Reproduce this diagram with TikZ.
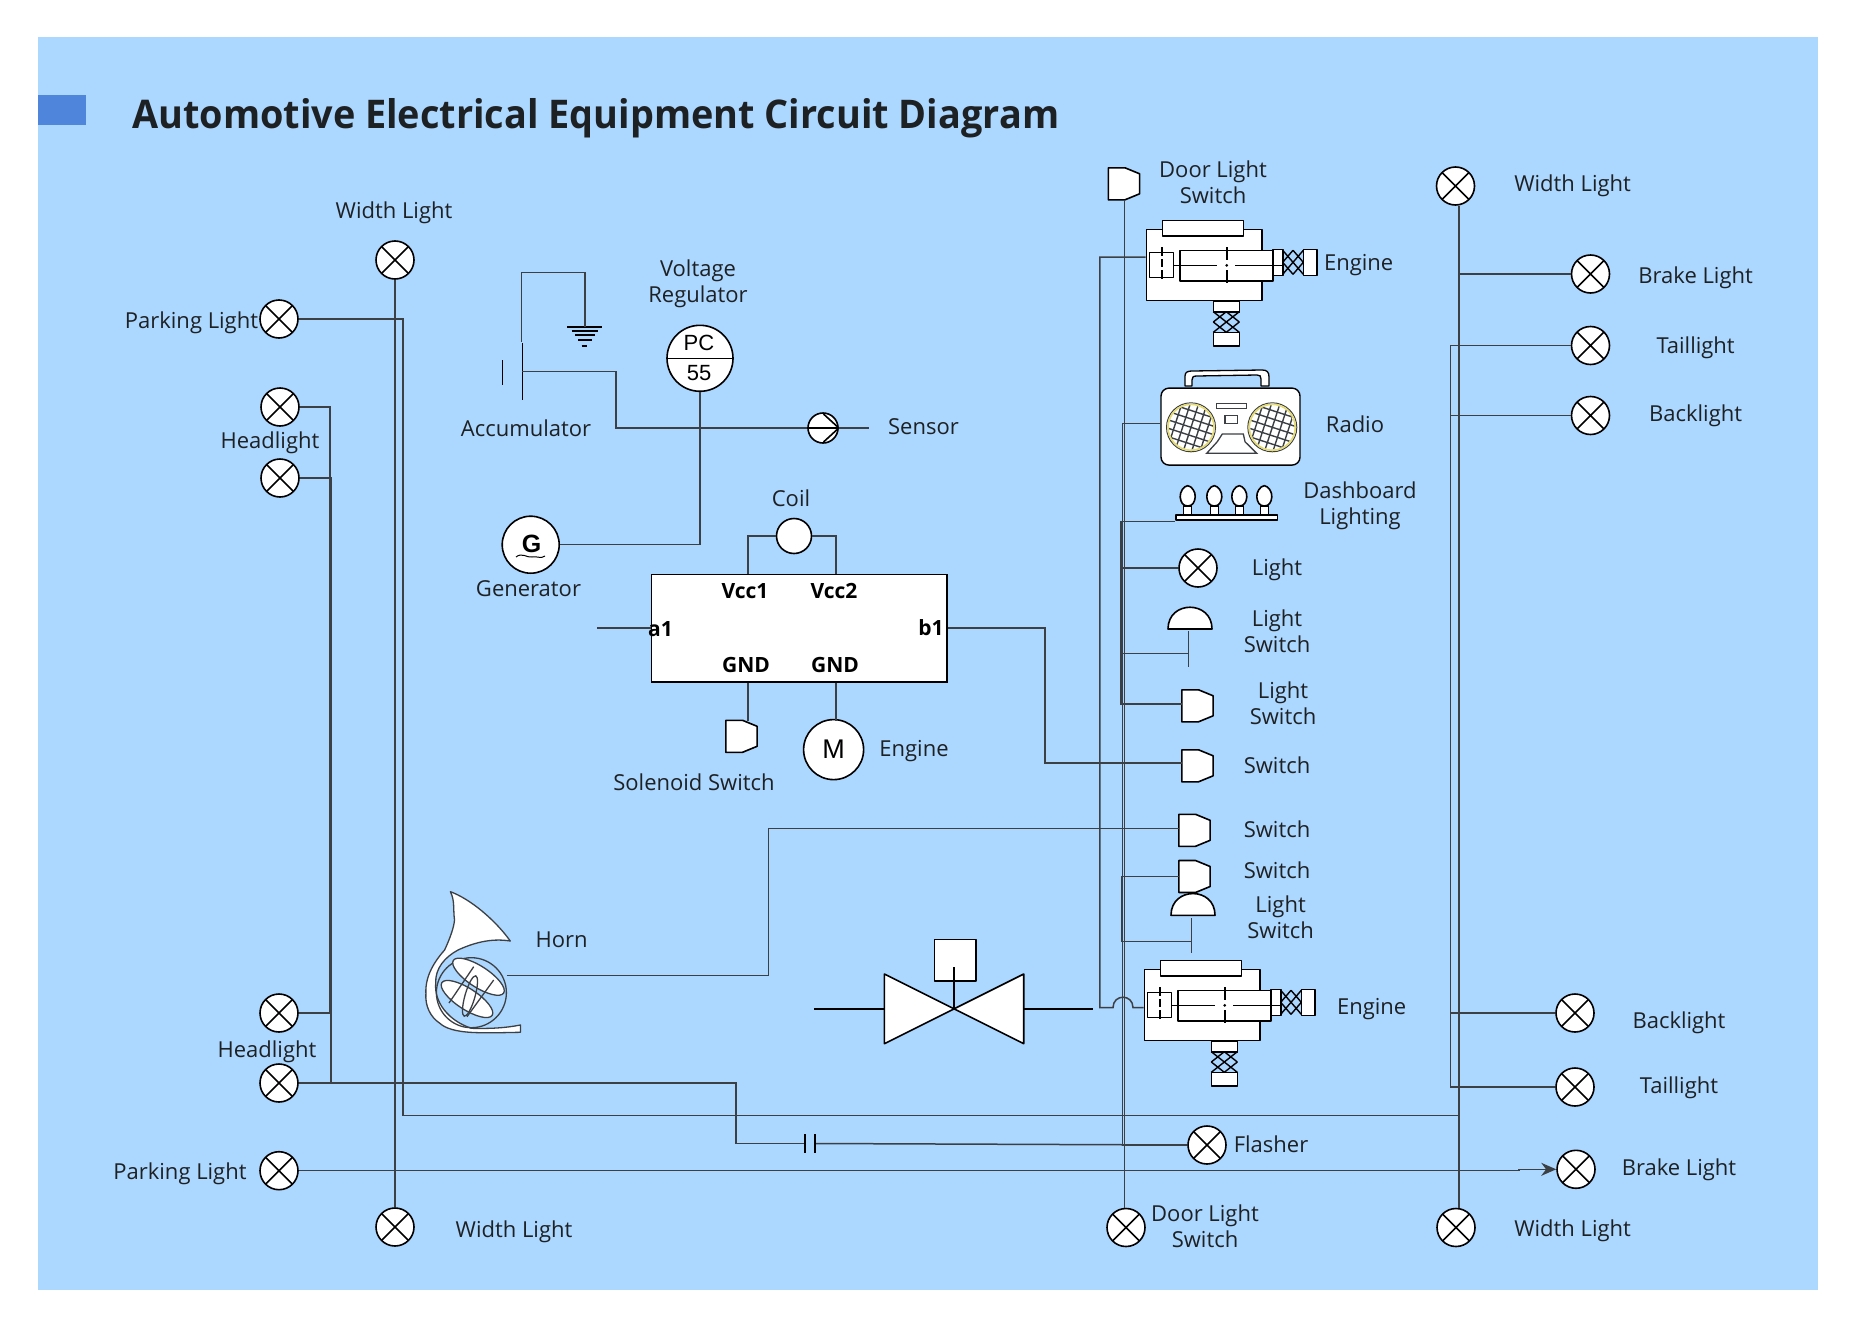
\documentclass[tikz,border=0pt]{standalone}
\usepackage{fontspec}
\setmainfont{Open Sans}
\newfontfamily\arialfont{Liberation Sans}
\newfontfamily\titlefont[FakeStretch=.958]{Open Sans}
\usepackage{xcolor}
\usetikzlibrary{arrows.meta,calc}

\definecolor{panelblue}{HTML}{ACD7FF}
\definecolor{tabblue}{HTML}{4F86DB}
\definecolor{wiregrey}{HTML}{3C4044}
\definecolor{inkgrey}{HTML}{1E2124}
\definecolor{ringyellow}{HTML}{E6DB6C}

% one unit is one pixel of the reference
\tikzset{
    wire/.style={draw=wiregrey, line width=1.5pt, line join=miter},
    symb/.style={draw=black, line width=1.6pt, line join=round},
    lamp/.style={circle, draw=black, line width=1.6pt, fill=white, minimum size=38pt, inner sep=0pt,
        path picture={\draw[black, line width=1.6pt]
            (path picture bounding box.south west) -- (path picture bounding box.north east)
            (path picture bounding box.north west) -- (path picture bounding box.south east);}},
    roundsym/.style={circle, draw=black, line width=1.6pt, fill=white, inner sep=0pt},
    gatebox/.style={rectangle, minimum width=32pt, minimum height=32pt, inner sep=0pt},
    tag/.style={align=center, text=inkgrey, inner sep=0pt, font=\fontsize{22}{26}\selectfont},
    pinname/.style={text=black, inner sep=0pt, font=\fontsize{21}{25}\selectfont\bfseries},
    enginebox/.pic={
        \node[rectangle, symb, fill=white, minimum width=115.4pt, minimum height=71pt, inner sep=0pt] (-body) at (57.7,35.5) {};
        \draw[symb, fill=white] (16,-9) rectangle (97,6.4);
        \draw[symb, fill=white] (3,23) rectangle (27,48);
        \draw[symb, fill=white] (33.7,21) rectangle (126.4,51.4);
        \draw[symb, fill=white] (126.4,20) rectangle (136.4,46);
        \draw[symb, fill=white] (157,20) rectangle (170.4,46);
        \draw[symb, fill=white] (67,71.4) rectangle (93,82.4);
        \draw[symb, fill=white] (67,103) rectangle (93,116.4);
        \hatchnet{136.4}{21}{20.6}{24}
        \hatchnet{67}{82.4}{26}{20.6}
        \draw[symb] (27,36) -- (71,36) (88.7,36) -- (136.4,36);
        \fill (80.4,36) circle (1.5pt);
        \draw[symb, dash pattern=on 9pt off 3pt on 8pt off 3pt on 9pt] (15.4,18) -- (15.4,52.4);
        \draw[symb] (80.4,18) -- (80.4,31) (80.4,41) -- (80.4,54);
    }
}

\newcommand{\hatchnet}[4]{
    \begin{scope}[shift={(#1,#2)}, x=#3pt, y=-#4pt]
        \draw[symb, line width=1.4pt] (0,0) -- (1,1) (0,.5) -- (.5,1) (.5,0) -- (1,.5)
            (1,0) -- (0,1) (.5,0) -- (0,.5) (1,.5) -- (.5,1);
    \end{scope}
}
\newcommand{\gateswitch}[3]{
    \node[gatebox] (#1) at (#2,#3) {};
    \draw[symb, fill=white] (#1.north west) -- ++(16.7,0) -- ++(14.6,6) -- ++(0,20) -- ++(-14.6,6) -- ++(-16.7,0) -- cycle;
}
\newcommand{\domeswitch}[3]{
    \coordinate (#1) at (#2,#3);
    \draw[symb, fill=white] ($(#1)+(-22,0)$) .. controls +(0,-29) and +(0,-29) .. ++(44,0) -- cycle;
}
\newcommand{\speakerdisc}[2]{
    \begin{scope}
        \draw[wiregrey, line width=1pt, fill=white] (#1,#2) circle (24.5pt);
        \draw[ringyellow, line width=1.6pt] (#1,#2) circle (23pt);
        \clip (#1,#2) circle (22pt);
        \begin{scope}[shift={(#1,#2)}, rotate=-18]
            \foreach \gp in {-24,-16,...,24} {
                \draw[wiregrey, line width=1.4pt] (\gp,-26) -- (\gp,26) (-26,\gp) -- (26,\gp);
            }
        \end{scope}
    \end{scope}
}

\begin{document}
\begin{tikzpicture}[x=1pt, y=-1pt]

\useasboundingbox (0,0) rectangle (1854,1327);
\fill[white] (0,0) rectangle (1854,1327);
\fill[panelblue] (38,37) rectangle (1818,1290);
\fill[tabblue] (38,95) rectangle (86,125);

\node[anchor=west, inner sep=0pt, text=inkgrey, font=\titlefont\fontsize{39.5}{46}\selectfont\bfseries] (title) at (132,118) {Automotive Electrical Equipment Circuit Diagram};

% lamps
\node[lamp] (widthA) at (395,260) {};
\node[lamp] (parkA) at (279,319) {};
\node[lamp] (headA) at (280,407) {};
\node[lamp] (headB) at (280,478) {};
\node[lamp] (headC) at (279,1013) {};
\node[lamp] (headD) at (279,1083) {};
\node[lamp] (parkB) at (279,1170.7) {};
\node[lamp] (widthB) at (395,1227) {};
\node[lamp] (doorB) at (1126,1227.5) {};
\node[lamp] (flash) at (1207,1145) {};
\node[lamp] (lightA) at (1198,568) {};
\node[lamp] (widthC) at (1455.5,186) {};
\node[lamp] (brakeA) at (1590.5,274) {};
\node[lamp] (tailA) at (1590.5,345.5) {};
\node[lamp] (backA) at (1590.5,415.5) {};
\node[lamp] (backB) at (1575,1013) {};
\node[lamp] (tailB) at (1575,1087) {};
\node[lamp] (brakeB) at (1576,1169.3) {};
\node[lamp] (widthD) at (1456,1227.5) {};

% switches
\gateswitch{swDoor}{1124.5}{184}
\gateswitch{swA}{1198}{706}
\gateswitch{swD}{1198}{766}
\gateswitch{swB}{1195}{830.5}
\gateswitch{swC}{1195}{876.7}
\gateswitch{swSol}{742}{736.5}
\domeswitch{domeA}{1190}{629}
\domeswitch{domeB}{1193}{915.3}
\coordinate (stemA) at (1188.7,653.3);
\coordinate (stemB) at (1191.7,941.7);

% controller block
\node[rectangle, draw=black, line width=1.6pt, fill=white, minimum width=295.3pt, minimum height=107.7pt, inner sep=0pt] (box) at (799.3,628.2) {};
\node[pinname] (vccA) at (745,591) {Vcc1};
\node[pinname] (vccB) at (834,591) {Vcc2};
\node[pinname] (gndA) at (746,664.5) {GND};
\node[pinname] (gndB) at (835,664.5) {GND};
\node[pinname] (pinA) at (660.5,629) {a1};
\node[pinname] (pinB) at (931,628) {b1};

\node[roundsym, minimum size=35pt] (coil) at (794,536) {};
\node[roundsym, minimum size=60pt, font=\arialfont\fontsize{27}{30}\selectfont] (motor) at (833.6,749.6) {M};
\node[roundsym, minimum size=57pt] (gen) at (530.7,544.7) {};
\node[inner sep=0pt, font=\arialfont\fontsize{25}{28}\selectfont\bfseries] (genG) at (531.5,544) {G};
\draw[black, line width=1pt] (516,557) .. controls (522,552) and (527,558) .. (532,557) .. controls (537,556) and (541,559) .. (545,556);

% regulator and sensor
\node[roundsym, minimum size=66pt] (reg) at (700,358.3) {};
\draw[symb] (reg.west) -- (reg.east);
\node[inner sep=0pt, font=\arialfont\fontsize{22}{26}\selectfont] (regA) at (699,342.5) {PC};
\node[inner sep=0pt, font=\arialfont\fontsize{22}{26}\selectfont] (regB) at (699,373) {55};
\node[roundsym, minimum size=30pt] (sensor) at (823,428) {};
\draw[symb] (sensor.west) -- (sensor.east) (823.5,414) -- (sensor.east) -- (823.5,442);

% accumulator and earth
\coordinate (accTop) at (521.7,341.7);
\coordinate (accPlus) at (522.3,371.7);
\coordinate (earth) at (585,326.7);
\draw[symb] (522.3,343) -- (522.3,400) (502.3,360) -- (502.3,385);
\draw[symb] (567,326.7) -- (602,326.7) (571.7,330.7) -- (598,330.7) (575,335) -- (595,335) (578,340) -- (591.7,340) (581.7,346) -- (587,346);

% engines
\pic (engA) at (1146.3,229.3) {enginebox};
\pic (engB) at (1144.3,969.3) {enginebox};

% radio
\draw[symb, fill=white, line width=1.3pt] (1185,386) -- (1185,376) .. controls (1185,372) and (1188,371) .. (1192,371) -- (1262,370) .. controls (1267,370) and (1269,372) .. (1269,377) -- (1269,386) -- (1261,386) -- (1261,379) .. controls (1261,376) and (1260,375) .. (1257,375) -- (1197,376) .. controls (1193,376) and (1192,377) .. (1192,380) -- (1192,386) -- cycle;
\node[rectangle, rounded corners=8pt, symb, line width=1.4pt, fill=white, minimum width=139pt, minimum height=77pt, inner sep=0pt] (radio) at (1230.5,426.6) {};
\speakerdisc{1191}{427.3}
\speakerdisc{1272.3}{427.3}
\draw[wiregrey, line width=1.3pt, fill=white] (1216.7,403.3) rectangle (1246.7,408.3) (1225,415.7) rectangle (1237.7,423.3);
\draw[wiregrey, line width=1.3pt, fill=white] (1222.3,434) -- (1243.3,434) -- (1245,441.7) -- (1256.7,453.3) -- (1206.7,453.3) -- (1217.3,441.7) -- cycle;

% dashboard lamps
\node[rectangle, symb, fill=white, minimum width=101.6pt, minimum height=5pt, inner sep=0pt] (dash) at (1226.5,517.5) {};
\foreach \bx in {1187.7,1214.3,1239.3,1264.3} {
    \draw[symb, fill=white, line width=1.2pt] (\bx-4,506) rectangle (\bx+4,515);
    \draw[symb, fill=white] (\bx,485.7) .. controls (\bx+4,486) and (\bx+8,492) .. (\bx+7.5,497) .. controls (\bx+7,502) and (\bx+5,506) .. (\bx,506) .. controls (\bx-5,506) and (\bx-7,502) .. (\bx-7.5,497) .. controls (\bx-8,492) and (\bx-4,486) .. (\bx,485.7) -- cycle;
}

% horn
\draw[wiregrey, line width=1.3pt, fill=white, line join=round] (450.4,891.7) .. controls (470,898.8) and (495,919.7) .. (510.3,941) .. controls (490,937.7) and (472,943.6) .. (458,950) .. controls (445,957) and (435,968.3) .. (435.7,983.2) .. controls (434,1001.9) and (448,1020.5) .. (471.4,1028.3) .. controls (490,1028.8) and (505,1028) .. (520.5,1025) -- (520.5,1032.3) .. controls (505,1032.5) and (490,1033.2) .. (473.7,1032.5) .. controls (455,1031.7) and (445,1028) .. (440,1023.4) .. controls (430,1016.8) and (425,1005.6) .. (425.9,993.4) .. controls (425,975.7) and (435,960.8) .. (444.6,950) .. controls (450,938.4) and (454,927.2) .. (454.5,920) .. controls (453,908.5) and (455,901) .. (450.4,891.7) -- cycle;
\draw[wiregrey, line width=1.3pt] (471.4,992.7) circle (35pt);
\draw[wiregrey, line width=1.3pt, fill=white, rotate around={-33:(478.5,976.7)}] (478.5,976.7) ellipse (30pt and 10.5pt);
\draw[wiregrey, line width=1.3pt, fill=white, rotate around={-33:(467,999)}] (467,999) ellipse (30pt and 10.5pt);
\draw[wiregrey, line width=1.3pt, rotate around={-16:(470,996)}] (470,996) ellipse (5pt and 21pt);
\draw[wiregrey, line width=1.3pt] (473.7,966.7) -- (449,1003) (493.7,980) -- (467,1016.7);
\coordinate (hornOut) at (506.5,975.7);

% valve
\node[rectangle, symb, fill=white, minimum width=41.6pt, minimum height=41.7pt, inner sep=0pt] (valveTop) at (955.2,960.2) {};
\draw[symb, fill=white] (884.4,974) -- (1023.7,1043.7) -- (1023.7,974) -- (884.4,1043.7) -- cycle;
\coordinate (valveMid) at (954,1009);
\draw[symb] (954,967.3) -- (valveMid);
\draw[symb] (884.4,1009) -- ++(-70,0) (1023.7,1009) -- ++(69.6,0);

% connectors
\draw[wire] (widthA.south) -- (widthB.north);
\coordinate (busBottom) at (1459,1115.5);
\draw[wire] (parkA.east) -- ++(104,0) |- (busBottom);
\draw[wire] (headA.east) -- ++(30,0) |- (headC.east);
\draw[wire] (headB.east) -- ++(31,0) |- (headD.east);
\coordinate (capA) at (805,1143.5);
\coordinate (capB) at (815,1143.5);
\draw[wire] (headD.east) -- ++(437,0) |- (capA);
\draw[wire] (capB) -- (flash.west);
\draw[symb] ($(capA)+(0,-9.5)$) -- ($(capA)+(0,9.5)$) ($(capB)+(0,-9.5)$) -- ($(capB)+(0,9.5)$);
\coordinate (kink) at (1519,1170.7);
\draw[wire] (parkB.east) -- (kink);
\draw[wire, -{Stealth[length=15pt, width=13pt]}] (kink) |- (brakeB.west);
\draw[wire] ([xshift=3.5pt]widthC.south) -- ([xshift=3pt]widthD.north);
\draw[wire] (brakeA.west) -- ++(-112.5,0);
\draw[wire] (tailA.west) -- ++(-120,0) |- (tailB.west);
\draw[wire] (backA.west) -- ++(-120,0);
\draw[wire] (backB.west) -- ++(-104,0);

\draw[wire] (accTop) -- ++(0,-69) -| (earth);
\draw[wire] (accPlus) -- ++(93.7,0) |- (sensor.west);
\draw[wire] (sensor.east) -- ++(30,0);
\draw[wire] (reg.south) |- (gen.east);
\draw[wire] (coil.west) -| ([xshift=97pt]box.north west);
\draw[wire] (coil.east) -| ([xshift=185pt]box.north west);
\draw[wire] (box.west) -- ++(-54,0);
\draw[wire] (box.east) -- ++(97,0) |- ([yshift=3pt]swD.west);
\draw[wire] ([xshift=97pt]box.south west) -- ++(0,38);
\draw[wire] ([xshift=185pt]box.south west) -- ++(0,38);
\draw[wire] (hornOut) -- ++(261.8,0) |- ([yshift=2pt]swB.west);

\draw[wire] (swDoor.south) -- (swDoor.south |- doorB.north);
\draw[wire] ([yshift=3pt]radio.west) -- ++(-38,0) |- (flash.west);
\draw[wire] ([yshift=-4pt]dash.west) -- ++(-54,0) |- ([yshift=2pt]swA.west);
\draw[wire] (lightA.west) -- ++(-57,0);
\draw[wire] ($(domeA)+(-1.3,2)$) -- (stemA) -- ++(0,13.4);
\draw[wire] (stemA) -- ++(-66.2,0);
\draw[wire] ($(domeB)+(-1.3,3)$) -- (stemB) -- ++(0,11.6);
\draw[wire] (stemB) -- ++(-70,0) |- (swC.west);
\coordinate (hopL) at (1113,1007.7);
\coordinate (hopR) at (1133,1007.7);
\draw[wire] ([yshift=7.8pt]engA-body.west) -- ++(-45.6,0) |- (hopL) .. controls +(0,-14) and +(0,-14) .. (hopR) -- ([yshift=-2.9pt]engB-body.west);

% labels
\node[tag] (tWidthA) at (394,212.5) {Width Light};
\node[tag] (tParkA) at (191.5,322.5) {Parking Light};
\node[tag] (tHeadA) at (270,442.5) {Headlight};
\node[tag] (tHeadB) at (267,1051.5) {Headlight};
\node[tag] (tParkB) at (180,1173.5) {Parking Light};
\node[tag] (tWidthB) at (514,1232) {Width Light};
\node[tag] (tHorn) at (561.6,940) {Horn};
\node[tag] (tReg) at (698,283.5) {Voltage\\Regulator};
\node[tag] (tAcc) at (526,428) {Accumulator};
\node[tag] (tSensor) at (923.5,426.5) {Sensor};
\node[tag] (tCoil) at (791,498) {Coil};
\node[tag] (tGen) at (528.5,589) {Generator};
\node[tag] (tSol) at (694,782.5) {Solenoid Switch};
\node[tag] (tMotor) at (914,751) {Engine};
\node[tag] (tDoorA) at (1213,182) {Door Light\\Switch};
\node[tag] (tEngA) at (1358.6,265) {Engine};
\node[tag] (tRadio) at (1355,424.5) {Radio};
\node[tag] (tDash) at (1360,506) {Dashboard\\Lighting};
\node[tag] (tLight) at (1277,570) {Light};
\node[tag] (tDomeA) at (1277,631.5) {Light\\Switch};
\node[tag] (tSwA) at (1283,703.5) {Light\\Switch};
\node[tag] (tSwD) at (1277,765) {Switch};
\node[tag] (tSwB) at (1277,829) {Switch};
\node[tag] (tSwC) at (1277,870) {Switch};
\node[tag] (tDomeB) at (1280.6,917.5) {Light\\Switch};
\node[tag] (tEngB) at (1371.6,1009.5) {Engine};
\node[tag] (tFlash) at (1271,1144.5) {Flasher};
\node[tag] (tDoorB) at (1205,1226) {Door Light\\Switch};
\node[tag] (tWidthC) at (1572.6,185.5) {Width Light};
\node[tag] (tBrakeA) at (1695.6,277.5) {Brake Light};
\node[tag] (tTailA) at (1695.6,347.5) {Taillight};
\node[tag] (tBackA) at (1695.6,416.2) {Backlight};
\node[tag] (tBackB) at (1679,1022.5) {Backlight};
\node[tag] (tTailB) at (1679,1088) {Taillight};
\node[tag] (tBrakeB) at (1679,1169.5) {Brake Light};
\node[tag] (tWidthD) at (1572.6,1230.5) {Width Light};

\end{tikzpicture}
\end{document}
